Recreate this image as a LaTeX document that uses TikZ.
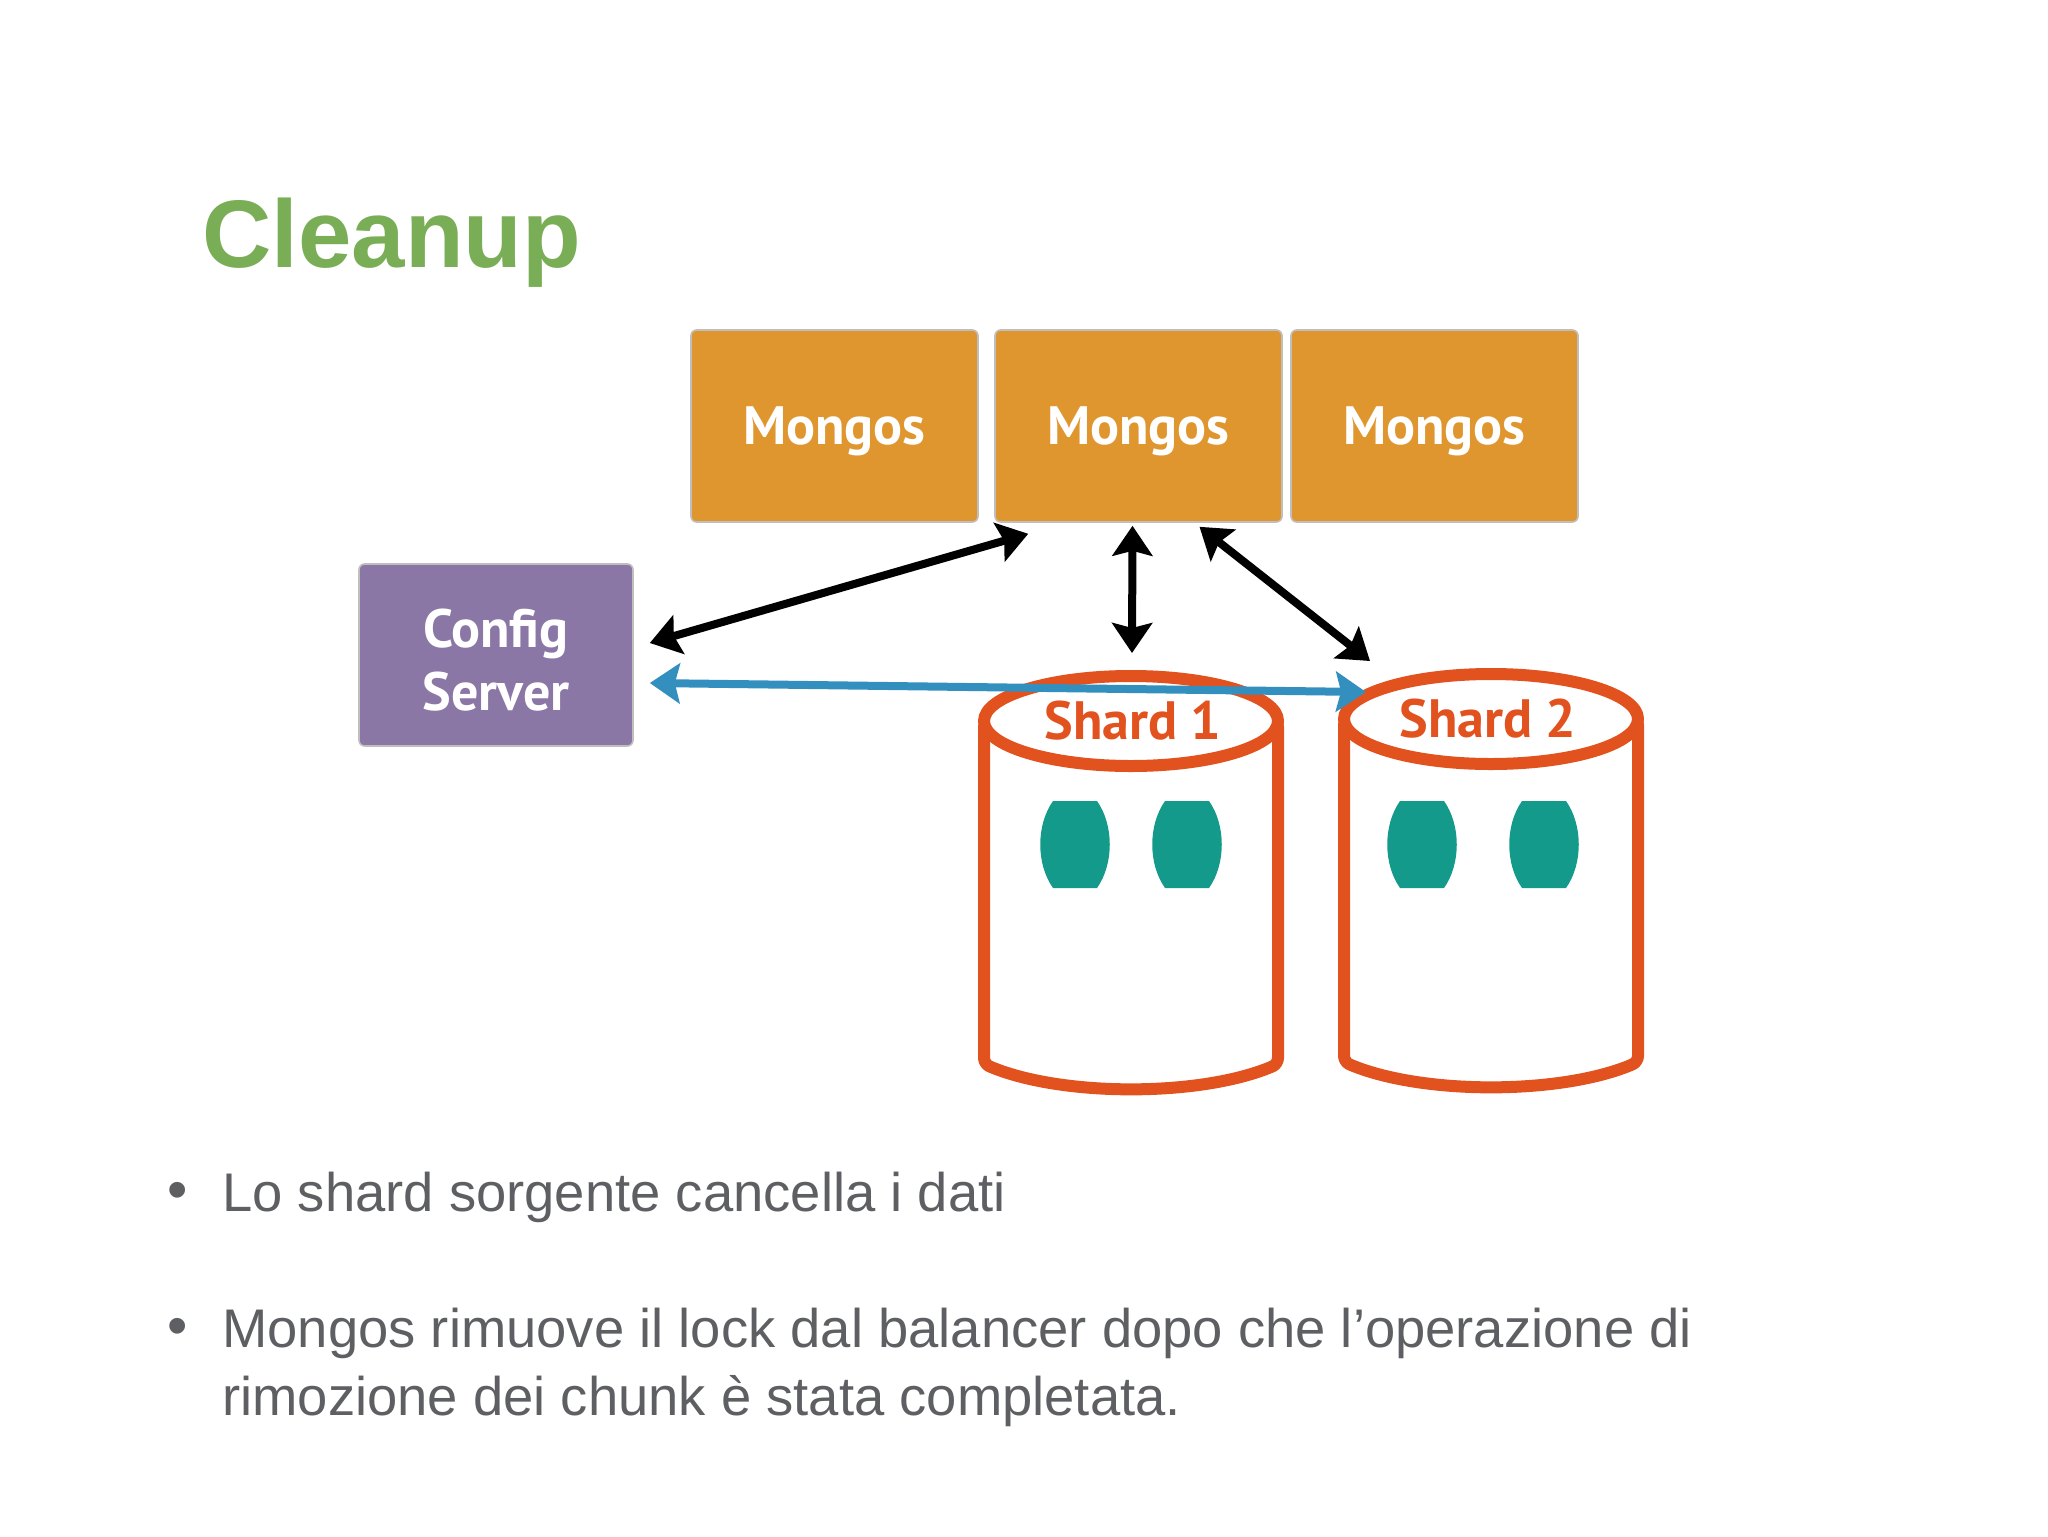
\documentclass[tikz,border=0pt]{standalone}
\usepackage{xcolor}
\usepackage{fontspec}
\setmainfont{Liberation Sans}
\newfontfamily\labelfont[Scale=1]{PT Sans}
\usetikzlibrary{arrows.meta, calc}
\definecolor{titlegreen}{HTML}{79AE57}
\definecolor{mongosorange}{HTML}{E0962F}
\definecolor{configpurple}{HTML}{8B77A6}
\definecolor{shardred}{HTML}{E2521F}
\definecolor{chunkteal}{HTML}{149A8B}
\definecolor{moveblue}{HTML}{3390BE}
\definecolor{bodygrey}{HTML}{5E5F62}
\tikzset{
x=0.5pt,
y=-0.5pt,
>={Stealth[length=15pt,width=20pt,inset=2.5pt]},
box/.style={%
    rectangle,
    rounded corners=1mm,
    draw=black!25,
    line width=0.8pt,
    text=white,
    align=center,
    % Font
    font=\labelfont\bfseries\fontsize{27}{31.5}\selectfont
},
mongos/.style={box, fill=mongosorange, minimum width=143.5pt, minimum height=96pt, text height=18.6pt, text depth=0pt},
config/.style={box, fill=configpurple, minimum width=137pt, minimum height=91pt},
shardlabel/.style={text=shardred, inner sep=0pt, font=\labelfont\bfseries\fontsize{27}{33}\selectfont},
cyl/.style={draw=shardred, line width=6pt, line join=round},
chunk/.style={fill=chunkteal},
link/.style={<->, line width=4pt, black},
move/.style={<->, line width=4pt, moveblue},
bullet/.style={text=bodygrey, inner sep=0pt, anchor=base west, font=\fontsize{27.2}{32}\selectfont},
dot/.style={text=bodygrey, inner sep=0pt, font=\fontsize{29}{34}\selectfont},
}
\begin{document}
\begin{tikzpicture}
	\useasboundingbox (0,0) rectangle (2048,1536);
	\node[inner sep=0pt, anchor=base west, text=titlegreen, font=\bfseries\fontsize{48}{50}\selectfont] (title) at (202,267) {Cleanup};

	\node[mongos] (m1) at (834.5,426) {Mongos};
	\node[mongos] (m2) at (1138.5,426) {Mongos};
	\node[mongos] (m3) at (1434.5,426) {Mongos};
	\node[config] (cfg) at (496,655) {\rule{0pt}{24pt}Config\\Server};

	% the two shards
	\foreach \cx/\cy/\lx/\name/\txt in {1131/721/1133/s1/Shard 1, 1491/719/1488/s2/Shard 2} {
		\draw[cyl, fill=white, rounded corners=3pt] (\cx-147,\cy) -- (\cx-147,\cy+343)
			.. controls (\cx-70,\cy+376) and (\cx+70,\cy+376) .. (\cx+147,\cy+343)
			-- (\cx+147,\cy) -- cycle;
		\draw[cyl, fill=white] (\cx,\cy) ellipse (147 and 45);
		\node[shardlabel] (\name) at (\lx,\cy) {\txt};
	}
	\foreach \bx in {1075,1187,1422,1544} {
		\fill[chunk] (\bx-22,801) -- (\bx+22,801) .. controls (\bx+39,825) and (\bx+39,864) .. (\bx+22,888)
			-- (\bx-22,888) .. controls (\bx-39,864) and (\bx-39,825) .. (\bx-22,801) -- cycle;
	}

	% free ends of the connectors
	\coordinate (cfgup) at ($(cfg.east)+(16,-12)$);
	\coordinate (cfgdown) at ($(cfg.east)+(16,28)$);
	\coordinate (m2a) at ($(m2.south west)+(34,11)$);
	\coordinate (m2b) at ($(m2.south)+(-6,3)$);
	\coordinate (m2c) at ($(m2.south)+(61,4)$);
	\coordinate (s1top) at ($(s1)+(-1,-68)$);
	\coordinate (s2a) at ($(s2)+(-118,-58)$);
	\coordinate (s2b) at ($(s2)+(-122,-27)$);

	\draw[link] (cfgup) -- (m2a);
	\draw[link] (m2b) -- (s1top);
	\draw[link] (m2c) -- (s2a);
	\draw[move] (cfgdown) -- (s2b);

	\node[dot] (dot1) at (178,1196) {•};
	\node[bullet] (line1) at (222,1211) {Lo shard sorgente cancella i dati};
	\node[dot] (dot2) at (178,1332) {•};
	\node[bullet] (line2) at (222,1347) {Mongos rimuove il lock dal balancer dopo che l’operazione di};
	\node[bullet] (line3) at (222,1415) {rimozione dei chunk è stata completata.};
\end{tikzpicture}
\end{document}
